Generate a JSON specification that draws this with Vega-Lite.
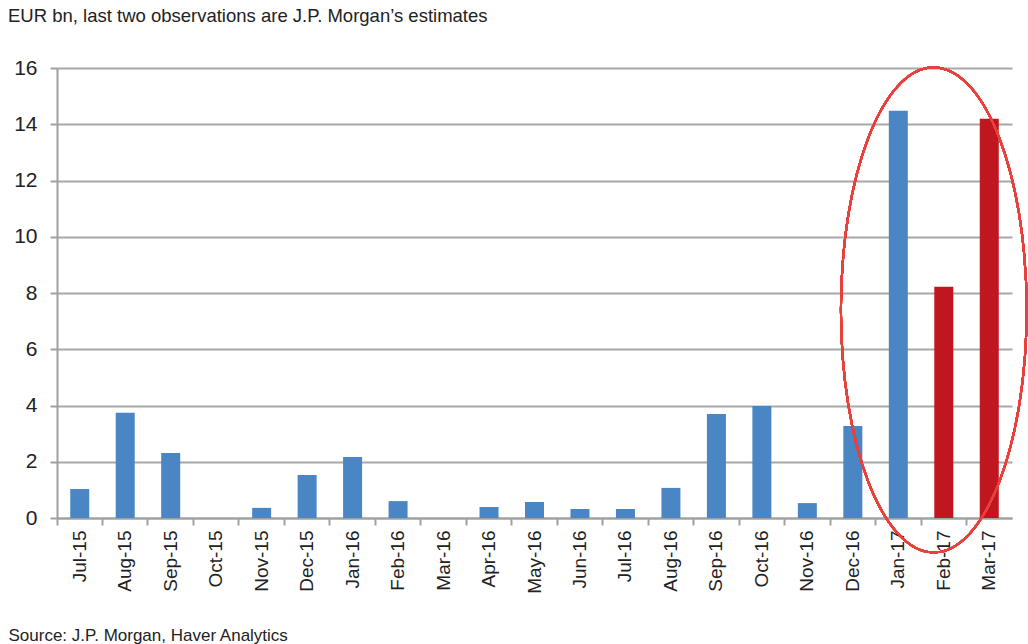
{
  "$schema": "https://vega.github.io/schema/vega-lite/v6.json",
  "width": 955,
  "height": 450,
  "autosize": {"type": "none"},
  "padding": {"left": 57, "top": 68, "right": 16, "bottom": 126},
  "background": "white",
  "title": {
    "text": "EUR bn, last two observations are J.P. Morgan’s estimates",
    "anchor": "start",
    "frame": "group",
    "dx": -49,
    "offset": 32,
    "font": "Liberation Sans, Arial",
    "fontSize": 18.5,
    "fontWeight": "normal",
    "color": "#222222"
  },
  "config": {
    "view": {"stroke": null},
    "font": "Liberation Sans, Arial"
  },
  "data": {
    "values": [
      {"month": "Jul-15", "value": 1.03, "type": "actual"},
      {"month": "Aug-15", "value": 3.74, "type": "actual"},
      {"month": "Sep-15", "value": 2.31, "type": "actual"},
      {"month": "Oct-15", "value": 0, "type": "actual"},
      {"month": "Nov-15", "value": 0.36, "type": "actual"},
      {"month": "Dec-15", "value": 1.53, "type": "actual"},
      {"month": "Jan-16", "value": 2.17, "type": "actual"},
      {"month": "Feb-16", "value": 0.6, "type": "actual"},
      {"month": "Mar-16", "value": 0, "type": "actual"},
      {"month": "Apr-16", "value": 0.39, "type": "actual"},
      {"month": "May-16", "value": 0.57, "type": "actual"},
      {"month": "Jun-16", "value": 0.32, "type": "actual"},
      {"month": "Jul-16", "value": 0.32, "type": "actual"},
      {"month": "Aug-16", "value": 1.07, "type": "actual"},
      {"month": "Sep-16", "value": 3.7, "type": "actual"},
      {"month": "Oct-16", "value": 3.98, "type": "actual"},
      {"month": "Nov-16", "value": 0.53, "type": "actual"},
      {"month": "Dec-16", "value": 3.27, "type": "actual"},
      {"month": "Jan-17", "value": 14.48, "type": "actual"},
      {"month": "Feb-17", "value": 8.22, "type": "estimate"},
      {"month": "Mar-17", "value": 14.2, "type": "estimate"}
    ]
  },
  "layer": [
    {
      "mark": {"type": "bar", "width": 19},
      "encoding": {
        "x": {
          "field": "month",
          "type": "nominal",
          "sort": null,
          "scale": {"paddingInner": 0, "paddingOuter": 0},
          "axis": {
            "title": "Source: J.P. Morgan, Haver Analytics",
            "titleFont": "Liberation Sans, Arial",
            "titleFontSize": 17,
            "titleFontWeight": "normal",
            "titleColor": "#222222",
            "titleAnchor": "start",
            "titleAlign": "left",
            "titleBaseline": "alphabetic",
            "titleX": -49,
            "titleY": 122,
            "labelAngle": -90,
            "labelAlign": "right",
            "labelBaseline": "middle",
            "labelFontSize": 19,
            "labelColor": "#222222",
            "labelPadding": 5,
            "bandPosition": 0,
            "tickSize": 7,
            "tickColor": "#a0a0a0",
            "tickWidth": 2,
            "domainColor": "#a0a0a0",
            "domainWidth": 2,
            "grid": false
          }
        },
        "y": {
          "field": "value",
          "type": "quantitative",
          "scale": {"domain": [0, 16], "nice": false},
          "axis": {
            "title": null,
            "values": [0, 2, 4, 6, 8, 10, 12, 14, 16],
            "labelFontSize": 21,
            "labelColor": "#222222",
            "labelPadding": 13,
            "tickSize": 7,
            "tickColor": "#a0a0a0",
            "tickWidth": 2,
            "domainColor": "#a0a0a0",
            "domainWidth": 2,
            "grid": true,
            "gridColor": "#a8a8a8",
            "gridWidth": 2
          }
        },
        "color": {
          "field": "type",
          "type": "nominal",
          "scale": {"domain": ["actual", "estimate"], "range": ["#4a86c3", "#c0161f"]},
          "legend": null
        }
      }
    },
    {
      "mark": {
        "type": "point",
        "shape": "M0,-1 C0.2115,-1 0.383,-0.5523 0.383,0 C0.383,0.5523 0.2115,1 0,1 C-0.2115,1 -0.383,0.5523 -0.383,0 C-0.383,-0.5523 -0.2115,-1 0,-1 Z",
        "size": 235225,
        "filled": false,
        "stroke": "#e8413c",
        "strokeWidth": 2,
        "opacity": 1,
        "xOffset": -10
      },
      "encoding": {
        "x": {"datum": "Feb-17", "type": "nominal"},
        "y": {"datum": 7.4, "type": "quantitative"}
      }
    }
  ]
}
